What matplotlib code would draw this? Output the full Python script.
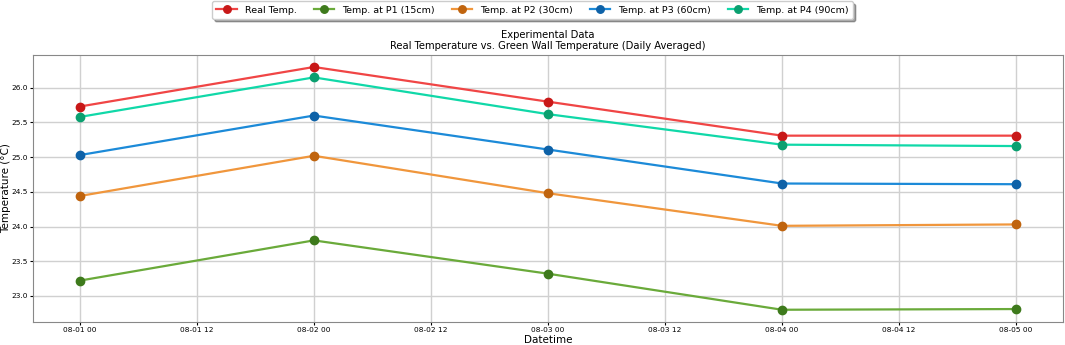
import matplotlib.pyplot as plt
import matplotlib.dates as mdates
import pandas as pd

dates = pd.to_datetime(['2023-08-01', '2023-08-02', '2023-08-03', '2023-08-04', '2023-08-05'])
real_temp = [25.73, 26.30, 25.80, 25.31, 25.31]
p1_temp = [23.22, 23.80, 23.32, 22.80, 22.81]
p2_temp = [24.44, 25.02, 24.48, 24.01, 24.03]
p3_temp = [25.03, 25.60, 25.11, 24.62, 24.61]
p4_temp = [25.58, 26.15, 25.62, 25.18, 25.16]

series = [
    ('Real Temp.', real_temp, '#f04545', '#c81818'),
    ('Temp. at P1 (15cm)', p1_temp, '#6aaa3a', '#3e7a1c'),
    ('Temp. at P2 (30cm)', p2_temp, '#f0963c', '#c0640e'),
    ('Temp. at P3 (60cm)', p3_temp, '#1c8ad8', '#0e62a8'),
    ('Temp. at P4 (90cm)', p4_temp, '#10d8a8', '#0aa070'),
]

fig = plt.figure(figsize=(10.65, 3.45), dpi=100)
ax = fig.add_axes([0.031, 0.067, 0.967, 0.774])

for label, vals, lc, mc in series:
    ax.plot(dates, vals, color=lc, linewidth=1.6, marker='o', markersize=6,
            markerfacecolor=mc, markeredgecolor=mc, label=label)

ax.xaxis.set_major_locator(mdates.HourLocator(byhour=[0, 12]))
ax.xaxis.set_major_formatter(mdates.DateFormatter('%m-%d %H'))
ax.set_yticks([23.0, 23.5, 24.0, 24.5, 25.0, 25.5, 26.0])
ax.tick_params(labelsize=5.3, length=2, pad=1.5)
ax.grid(True, color='#d0d0d0', linewidth=1)
for s in ax.spines.values():
    s.set_color('#888888')

ax.set_xlabel('Datetime', fontsize=7.5)
ax.xaxis.set_label_coords(0.5, -0.05)
ax.set_ylabel('Temperature (°C)', fontsize=7.5)
ax.yaxis.set_label_coords(-0.0215, 0.5)
ax.set_title('Experimental Data\nReal Temperature vs. Green Wall Temperature (Daily Averaged)',
             fontsize=7.2, pad=4, linespacing=1.15)

fig.legend(loc='upper center', bbox_to_anchor=(0.5, 1.0), ncol=5, fontsize=6.8,
           shadow=True, frameon=True, columnspacing=1.8, handlelength=2.2,
           borderpad=0.45, borderaxespad=0.15, markerscale=0.9)

fig.savefig('out.png', dpi=100)
